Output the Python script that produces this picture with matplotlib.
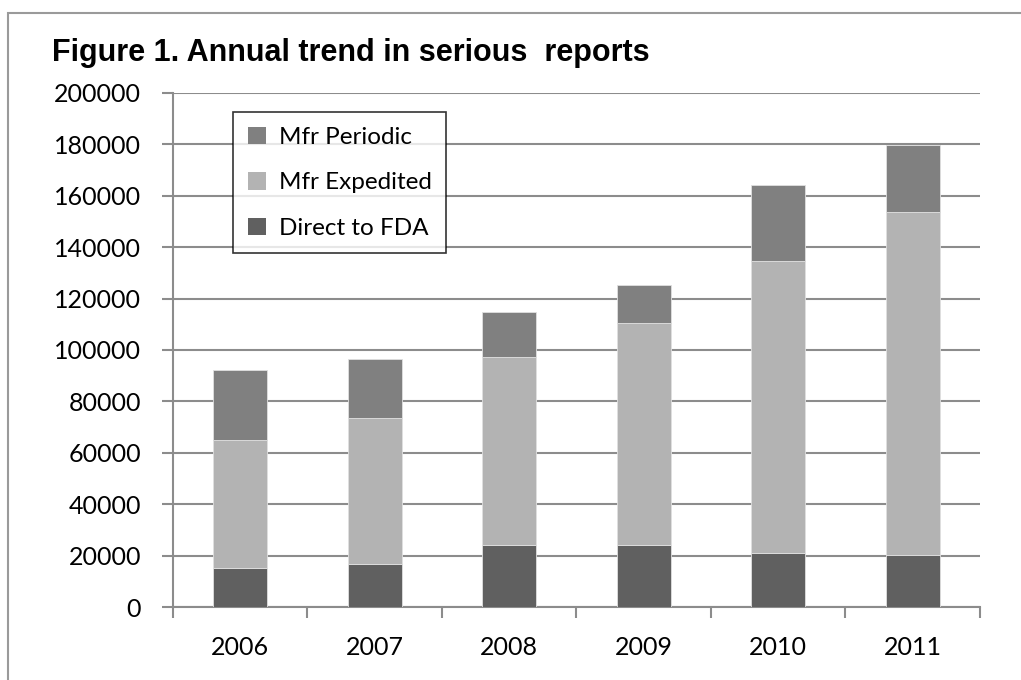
import matplotlib
matplotlib.use('Agg')
import matplotlib.pyplot as plt
from matplotlib.patches import Rectangle
import numpy as np

# values
years = ['2006', '2007', '2008', '2009', '2010', '2011']
direct = [15400, 16700, 24200, 24200, 21200, 20300]
expedited = [49500, 56900, 73100, 86400, 113500, 133200]
periodic = [27300, 22900, 17500, 14700, 29300, 26200]
yticks = [0, 20000, 40000, 60000, 80000, 100000, 120000, 140000, 160000, 180000, 200000]

c_direct = '#606060'
c_exp = '#b3b3b3'
c_per = '#808080'
grid_c = '#8c8c8c'

fig = plt.figure(figsize=(10.21, 6.8), dpi=100)
ax = fig.add_axes([0.1694, 0.1069, 0.7904, 0.7568])

x = np.arange(len(years))
bottom2 = np.array(direct) + np.array(expedited)
w = 0.40
ax.bar(x, direct, w, color=c_direct, edgecolor='#e0e0e0', linewidth=0.6, label='Direct to FDA', zorder=3)
ax.bar(x, expedited, w, bottom=direct, color=c_exp, edgecolor='#e0e0e0', linewidth=0.6, label='Mfr Expedited', zorder=3)
ax.bar(x, periodic, w, bottom=bottom2, color=c_per, edgecolor='#e0e0e0', linewidth=0.6, label='Mfr Periodic', zorder=3)

ax.set_xlim(-0.5, len(years) - 0.5)
ax.set_ylim(0, 200000)
ax.set_yticks(yticks)
ax.set_yticklabels([str(v) for v in yticks])
ax.yaxis.grid(True, color=grid_c, linewidth=1.5, zorder=0)

ax.set_xticks(x)
ax.set_xticklabels(years)
ax.set_xticks(np.arange(-0.5, len(years)), minor=True)
ax.tick_params(axis='x', which='major', length=0, pad=21)
ax.tick_params(axis='x', which='minor', length=8, width=1.5, color=grid_c)
ax.tick_params(axis='y', length=8, width=1.5, color=grid_c, pad=15)
for lab in ax.get_xticklabels() + ax.get_yticklabels():
    lab.set_family('Lato')
    lab.set_fontsize(18)

for s in ['top', 'right']:
    ax.spines[s].set_visible(False)
for s in ['left', 'bottom']:
    ax.spines[s].set_color(grid_c)
    ax.spines[s].set_linewidth(1.5)

h, l = ax.get_legend_handles_labels()
leg = ax.legend(h[::-1], l[::-1], loc='upper left', bbox_to_anchor=(0.075, 0.962),
                prop={'family': 'Lato', 'size': 17.5}, frameon=True, fancybox=False,
                edgecolor='black', handlelength=0.72, handleheight=0.72,
                handletextpad=0.55, labelspacing=1.0, borderpad=0.6, borderaxespad=0)
leg.get_frame().set_linewidth(1.2)
for p in leg.get_patches():
    p.set_edgecolor('none')

fig.text(0.051, 0.922, 'Figure 1. Annual trend in serious  reports', fontsize=22,
         fontweight='bold', family='Liberation Sans', va='center', ha='left')

fig.patches.append(Rectangle((8 / 1021, -0.05), 1.2, 1 - 13 / 680 + 0.05, transform=fig.transFigure,
                             fill=False, edgecolor='#9a9a9a', linewidth=1.5))

fig.savefig('out.png', dpi=100)
